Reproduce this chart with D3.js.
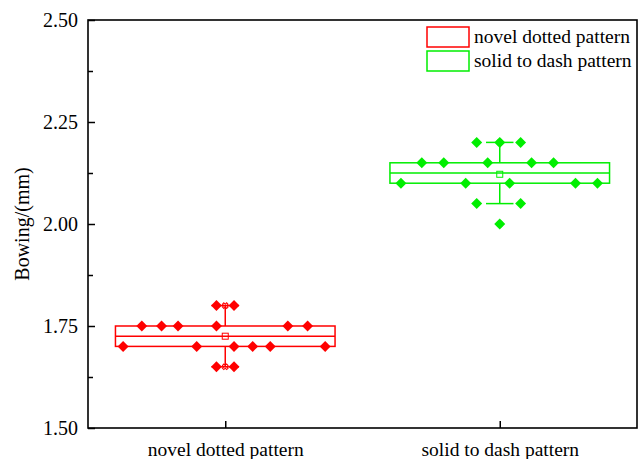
<!DOCTYPE html>
<html>
<head>
<meta charset="utf-8">
<script src="https://cdn.jsdelivr.net/npm/d3@7"></script>
<style>
  html, body { margin: 0; padding: 0; background: #fff; }
  svg { display: block; font-family: "Liberation Serif", "Times New Roman", serif; }
</style>
</head>
<body>
<svg id="chart" width="642" height="459"></svg>
<script>
  // categories and their point values (diamonds)
  const categories = ['novel dotted pattern', 'solid to dash pattern'];
  const seriesColors = ['#ff0000', '#00ee00'];

  const novelValues = [1.80, 1.80,
    1.75, 1.75, 1.75, 1.75, 1.75, 1.75,
    1.70, 1.70, 1.70, 1.70, 1.70, 1.70,
    1.65, 1.65];
  // horizontal spread of each point, as a fraction of the half box width
  const novelOffsets = [-0.08, 0.08,
    -0.76, -0.58, -0.43, -0.08, 0.57, 0.75,
    -0.93, -0.26, 0.08, 0.25, 0.41, 0.91,
    -0.08, 0.08];

  const solidValues = [2.20, 2.20, 2.20,
    2.15, 2.15, 2.15, 2.15, 2.15,
    2.10, 2.10, 2.10, 2.10, 2.10,
    2.05, 2.05,
    2.00];
  const solidOffsets = [-0.21, 0, 0.19,
    -0.71, -0.51, -0.11, 0.29, 0.49,
    -0.90, -0.31, 0.09, 0.69, 0.89,
    -0.21, 0.19,
    0];

  const yTicks = [1.50, 1.75, 2.00, 2.25, 2.50];
  const yMinorTicks = [1.625, 1.875, 2.125, 2.375];

  const series = [
    { name: categories[0], values: novelValues, offsets: novelOffsets, color: seriesColors[0] },
    { name: categories[1], values: solidValues, offsets: solidOffsets, color: seriesColors[1] },
  ];

  const svg = d3.select('#chart');
  const margin = { left: 88, top: 20, right: 5, bottom: 31 };
  const W = 642, H = 459;
  const x0 = margin.left, x1 = W - margin.right;
  const y0 = margin.top, y1 = H - margin.bottom;

  const x = d3.scalePoint().domain(categories).range([x0, x1]).padding(0.5);
  const y = d3.scaleLinear().domain([1.5, 2.5]).range([y1, y0]);
  const boxW = x.step() * 0.8;
  const capW = boxW * 0.125;
  const spread = d3.scaleLinear().domain([-1, 1]).range([-boxW / 2, boxW / 2]);

  function stats(values) {
    const s = values.slice().sort(d3.ascending);
    const q1 = d3.quantile(s, 0.25);
    const q3 = d3.quantile(s, 0.75);
    const iqr = q3 - q1;
    const lo = q1 - 1.5 * iqr - 1e-9;
    const hi = q3 + 1.5 * iqr + 1e-9;
    const inside = s.filter((v) => v >= lo && v <= hi);
    return {
      q1, q3,
      median: d3.quantile(s, 0.5),
      mean: d3.mean(s),
      wLo: d3.min(inside),
      wHi: d3.max(inside),
      min: s[0],
      max: s[s.length - 1],
    };
  }

  // boxes
  series.forEach((sr) => {
    const st = stats(sr.values);
    const cx = x(sr.name);
    const g = svg.append('g').attr('stroke', sr.color).attr('fill', 'none').attr('stroke-width', 1.5);
    g.append('rect')
      .attr('x', cx - boxW / 2).attr('y', y(st.q3))
      .attr('width', boxW).attr('height', y(st.q1) - y(st.q3));
    g.append('line')
      .attr('x1', cx - boxW / 2).attr('x2', cx + boxW / 2)
      .attr('y1', y(st.median)).attr('y2', y(st.median));
    g.append('line').attr('x1', cx).attr('x2', cx).attr('y1', y(st.q3)).attr('y2', y(st.wHi));
    g.append('line').attr('x1', cx).attr('x2', cx).attr('y1', y(st.q1)).attr('y2', y(st.wLo));
    [st.wHi, st.wLo].forEach((v) => {
      g.append('line')
        .attr('x1', cx - capW / 2).attr('x2', cx + capW / 2)
        .attr('y1', y(v)).attr('y2', y(v));
    });
    // min/max crosses
    [st.min, st.max].forEach((v) => {
      g.append('path')
        .attr('transform', `translate(${cx},${y(v)}) rotate(45)`)
        .attr('stroke-width', 1)
        .attr('d', d3.symbol(d3.symbolCross, 20)());
    });
    // mean marker
    g.append('rect')
      .attr('x', cx - 3).attr('y', y(st.mean) - 3)
      .attr('width', 6).attr('height', 6)
      .attr('stroke-width', 1);
  });

  // points
  const diamond = d3.symbol(d3.symbolSquare, 60)();
  series.forEach((sr) => {
    const cx = x(sr.name);
    svg.append('g')
      .selectAll('path')
      .data(sr.values.map((v, i) => ({ v, o: sr.offsets[i] })))
      .join('path')
      .attr('d', diamond)
      .attr('fill', sr.color)
      .attr('transform', (d) => `translate(${cx + spread(d.o)},${y(d.v)}) rotate(45)`);
  });

  // frame
  svg.append('rect')
    .attr('x', x0).attr('y', y0).attr('width', x1 - x0).attr('height', y1 - y0)
    .attr('fill', 'none').attr('stroke', '#000').attr('stroke-width', 1.6);

  // y axis
  const yAxis = svg.append('g').attr('transform', `translate(${x0},0)`);
  yAxis.append('g')
    .call(d3.axisLeft(y).tickValues(yTicks).tickFormat(d3.format('.2f')).tickSize(-7).tickPadding(10))
    .call((g) => g.select('.domain').remove())
    .call((g) => g.selectAll('line').attr('stroke', '#000').attr('stroke-width', 1.5))
    .call((g) => g.selectAll('text').attr('font-size', 20).attr('fill', '#000').attr('font-family', 'Liberation Serif'));
  yAxis.append('g')
    .call(d3.axisLeft(y).tickValues(yMinorTicks).tickFormat('').tickSize(-5))
    .call((g) => g.select('.domain').remove())
    .call((g) => g.selectAll('line').attr('stroke', '#000').attr('stroke-width', 1.5));

  // x axis
  svg.append('g')
    .attr('transform', `translate(0,${y1})`)
    .call(d3.axisBottom(x).tickSize(-7).tickPadding(14))
    .call((g) => g.select('.domain').remove())
    .call((g) => g.selectAll('line').attr('stroke', '#000').attr('stroke-width', 1.5))
    .call((g) => g.selectAll('text').attr('font-size', 19.5).attr('fill', '#000').attr('font-family', 'Liberation Serif'));

  // y title
  svg.append('text')
    .attr('transform', `translate(29,${(y0 + y1) / 2}) rotate(-90)`)
    .attr('text-anchor', 'middle')
    .attr('font-size', 20)
    .text('Bowing/(mm)');

  // legend
  const legend = svg.append('g').attr('transform', 'translate(427,27)');
  series.forEach((sr, i) => {
    const row = legend.append('g').attr('transform', `translate(0,${i * 24})`);
    row.append('rect')
      .attr('width', 42).attr('height', 20)
      .attr('fill', 'none').attr('stroke', sr.color).attr('stroke-width', 1.5);
    row.append('text')
      .attr('x', 47).attr('y', 16)
      .attr('font-size', 19.5)
      .text(sr.name);
  });
</script>
</body>
</html>
